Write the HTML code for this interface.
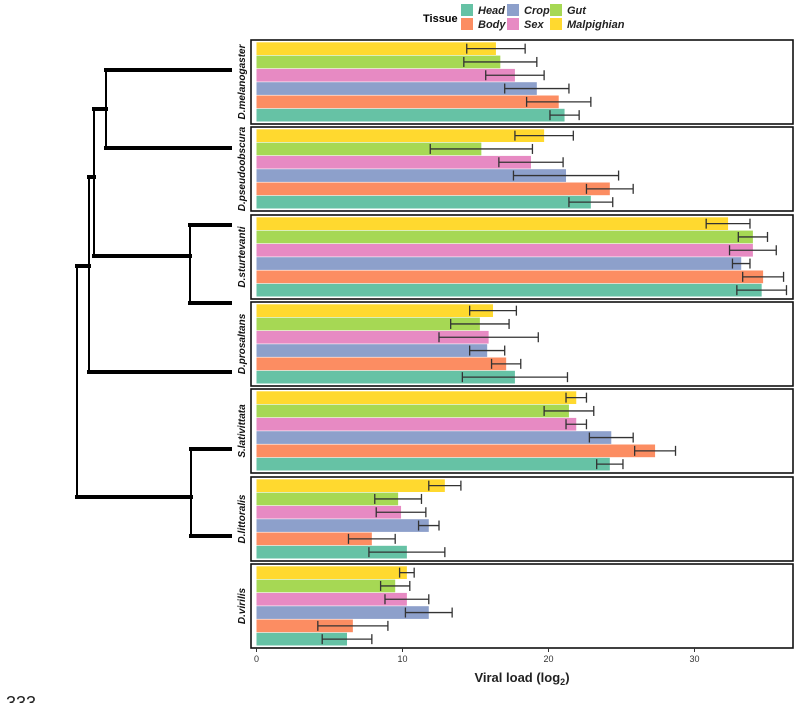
<!DOCTYPE html>
<html><head><meta charset="utf-8"><style>
html,body{margin:0;padding:0;background:#fff;}
svg{display:block;font-family:"Liberation Sans",sans-serif;}
</style></head><body>
<svg id="c" width="800" height="703" viewBox="0 0 800 703">
<g id="legend">
<text x="423" y="22" font-size="11" font-weight="bold">Tissue</text>
</g>
<g id="tree" stroke="#000" fill="none"></g>
<g id="panels"></g>
<g id="axis"></g>
<text x="522" y="682" font-size="13" font-weight="bold" text-anchor="middle" fill="#222">Viral load (log<tspan font-size="9" dy="3">2</tspan><tspan dy="-3">)</tspan></text>
<text x="6" y="709" font-size="18" fill="#222">333</text>
</svg>
<script>
const species=["D.melanogaster","D.pseudoobscura","D.sturtevanti","D.prosaltans","S.lativittata","D.littoralis","D.virilis"];
const tissues=["Malpighian","Gut","Sex","Crop","Body","Head"];
const legendOrder=["Head","Body","Crop","Sex","Gut","Malpighian"];
const colors={Head:"#66c2a5",Body:"#fc8d62",Crop:"#8da0cb",Sex:"#e78ac3",Gut:"#a6d854",Malpighian:"#ffd92f"};
// means per species, order = tissues (Malpighian, Gut, Sex, Crop, Body, Head)
const means=[
[16.4,16.7,17.7,19.2,20.7,21.1],
[19.7,15.4,18.8,21.2,24.2,22.9],
[32.3,34.0,34.0,33.2,34.7,34.6],
[16.2,15.3,15.9,15.8,17.1,17.7],
[21.9,21.4,21.9,24.3,27.3,24.2],
[12.9,9.7,9.9,11.8,7.9,10.3],
[10.3,9.5,10.3,11.8,6.6,6.2]];
const errs=[
[2.0,2.5,2.0,2.2,2.2,1.0],
[2.0,3.5,2.2,3.6,1.6,1.5],
[1.5,1.0,1.6,0.6,1.4,1.7],
[1.6,2.0,3.4,1.2,1.0,3.6],
[0.7,1.7,0.7,1.5,1.4,0.9],
[1.1,1.6,1.7,0.7,1.6,2.6],
[0.5,1.0,1.5,1.6,2.4,1.7]];
const xTicks=[0,10,20,30];
const NS="http://www.w3.org/2000/svg";
function mk(t,a,p){const e=document.createElementNS(NS,t);for(const k in a)e.setAttribute(k,a[k]);p.appendChild(e);return e;}
const x0=256.5,pxu=14.6;
function xs(v){return x0+v*pxu;}
const panelTops=[40,127,215,302,389,477,564],panelH=84,pL=251,pR=793;
const panels=document.getElementById('panels');
species.forEach((sp,i)=>{
  const top=panelTops[i];
  const g=mk('g',{},panels);
  
  
  const bh=13.3,pad=2;
  tissues.forEach((t,j)=>{
    const y=top+pad+j*bh;
    const r=mk('rect',{x:x0,y:y+0.3,width:xs(means[i][j])-x0,height:bh-0.6,fill:colors[t]},g);
    
    
    const cy=y+bh/2,a=xs(means[i][j]-errs[i][j]),b=xs(means[i][j]+errs[i][j]);
    const eg=mk('g',{stroke:'#333','stroke-width':1.3},g);
    
    
    mk('line',{x1:a,x2:b,y1:cy,y2:cy},eg);
    mk('line',{x1:a,x2:a,y1:cy-5,y2:cy+5},eg);
    mk('line',{x1:b,x2:b,y1:cy-5,y2:cy+5},eg);
  });
  const fr=mk('rect',{x:pL,y:top,width:pR-pL,height:panelH,fill:'none',stroke:'#111','stroke-width':1.6},g);
  
  
  const cy=top+panelH/2;
  const tl=mk('text',{x:0,y:0,transform:`translate(245,${cy}) rotate(-90)`,'text-anchor':'middle','font-size':10,'font-weight':'bold','font-style':'italic',fill:'#111'},g);
  tl.textContent=sp;
  
  
});
const ax=document.getElementById('axis');
xTicks.forEach(v=>{
  const l=mk('line',{x1:xs(v),x2:xs(v),y1:648,y2:652,stroke:'#333'},ax);
  
  
  const t=mk('text',{x:xs(v),y:662,'text-anchor':'middle','font-size':9,fill:'#333'},ax);
  t.textContent=v;
  
  
});
const lg=document.getElementById('legend');
legendOrder.forEach((t,k)=>{
  const col=Math.floor(k/2),row=k%2;
  const sx=[461,507,550][col],sy=4+row*14;
  const r=mk('rect',{x:sx,y:sy,width:12,height:12,fill:colors[t]},lg);
  
  
  const tx=mk('text',{x:sx+17,y:sy+10,'font-size':11,'font-weight':'bold','font-style':'italic',fill:'#222'},lg);
  tx.textContent=t;
  
  
});
const tree=document.getElementById('tree');
const segs=[
[106,70,230,70,4],[106,148,230,148,4],[106,70,106,148,2],[94,109,106,109,4],
[190,225,230,225,4],[190,303,230,303,4],[190,225,190,303,2],[94,256,190,256,4],
[94,109,94,256,2],[89,177,94,177,4],[89,372,230,372,4],[89,177,89,372,2],[77,266,89,266,4],
[191,449,230,449,4],[191,536,230,536,4],[191,449,191,536,2],[77,497,191,497,4],[77,266,77,497,2]];
segs.forEach(s=>{
  const l=mk('line',{x1:s[0],y1:s[1],x2:s[2],y2:s[3],'stroke-width':s[4],'stroke-linecap':'square'},tree);
  
  
});
</script>
</body></html>
